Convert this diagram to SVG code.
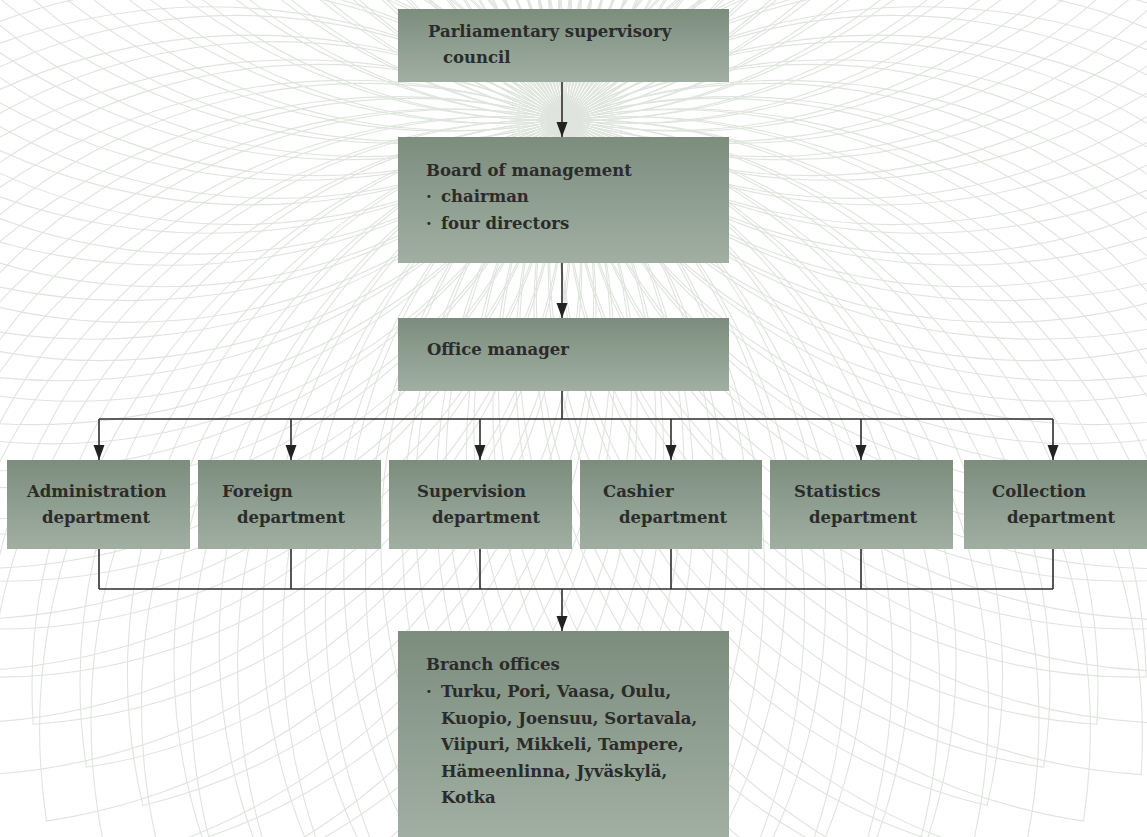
<svg xmlns="http://www.w3.org/2000/svg" xmlns:xlink="http://www.w3.org/1999/xlink" width="1147" height="837" viewBox="0 0 1147 837">
<style>
.bg{fill:none;stroke:#dfe4de;stroke-width:1.1}
.box{fill:url(#grad)}
.t{font-family:"DejaVu Serif","Liberation Serif",serif;font-weight:bold;font-size:16.5px;fill:#2b2b2b}
.c{fill:none;stroke:#2e2e2e;stroke-width:1.6}
</style>
<defs>
<linearGradient id="grad" x1="0" y1="0" x2="0" y2="1">
<stop offset="0" stop-color="#7c8d7e"/>
<stop offset="1" stop-color="#a0afa1"/>
</linearGradient>
<marker id="ah" viewBox="0 -6 15 12" refX="15" refY="0" markerWidth="15" markerHeight="12" markerUnits="userSpaceOnUse" orient="auto">
<path d="M0,-5.5 L15,0 L0,5.5 z" fill="#222"/>
</marker>
<g id="p">
<path d="M0,0 A569.2,569.2 0 0 1 805,0 A569.2,569.2 0 0 1 0,0 Z"/>
<path d="M0,0 A616.6,616.6 0 0 1 872,0 A616.6,616.6 0 0 1 0,0 Z"/>
</g>
</defs>
<rect width="1147" height="837" fill="#ffffff"/>
<g id="background" class="bg" transform="translate(565,120)">
<use xlink:href="#p" transform="rotate(0)"/>
<use xlink:href="#p" transform="rotate(4.865)"/>
<use xlink:href="#p" transform="rotate(9.730)"/>
<use xlink:href="#p" transform="rotate(14.595)"/>
<use xlink:href="#p" transform="rotate(19.459)"/>
<use xlink:href="#p" transform="rotate(24.324)"/>
<use xlink:href="#p" transform="rotate(29.189)"/>
<use xlink:href="#p" transform="rotate(34.054)"/>
<use xlink:href="#p" transform="rotate(38.919)"/>
<use xlink:href="#p" transform="rotate(43.784)"/>
<use xlink:href="#p" transform="rotate(48.649)"/>
<use xlink:href="#p" transform="rotate(53.514)"/>
<use xlink:href="#p" transform="rotate(58.378)"/>
<use xlink:href="#p" transform="rotate(63.243)"/>
<use xlink:href="#p" transform="rotate(68.108)"/>
<use xlink:href="#p" transform="rotate(72.973)"/>
<use xlink:href="#p" transform="rotate(77.838)"/>
<use xlink:href="#p" transform="rotate(82.703)"/>
<use xlink:href="#p" transform="rotate(87.568)"/>
<use xlink:href="#p" transform="rotate(92.432)"/>
<use xlink:href="#p" transform="rotate(97.297)"/>
<use xlink:href="#p" transform="rotate(102.162)"/>
<use xlink:href="#p" transform="rotate(107.027)"/>
<use xlink:href="#p" transform="rotate(111.892)"/>
<use xlink:href="#p" transform="rotate(116.757)"/>
<use xlink:href="#p" transform="rotate(121.622)"/>
<use xlink:href="#p" transform="rotate(126.486)"/>
<use xlink:href="#p" transform="rotate(131.351)"/>
<use xlink:href="#p" transform="rotate(136.216)"/>
<use xlink:href="#p" transform="rotate(141.081)"/>
<use xlink:href="#p" transform="rotate(145.946)"/>
<use xlink:href="#p" transform="rotate(150.811)"/>
<use xlink:href="#p" transform="rotate(155.676)"/>
<use xlink:href="#p" transform="rotate(160.541)"/>
<use xlink:href="#p" transform="rotate(165.405)"/>
<use xlink:href="#p" transform="rotate(170.270)"/>
<use xlink:href="#p" transform="rotate(175.135)"/>
<use xlink:href="#p" transform="rotate(180)"/>
<use xlink:href="#p" transform="rotate(184.865)"/>
<use xlink:href="#p" transform="rotate(189.730)"/>
<use xlink:href="#p" transform="rotate(194.595)"/>
<use xlink:href="#p" transform="rotate(199.459)"/>
<use xlink:href="#p" transform="rotate(204.324)"/>
<use xlink:href="#p" transform="rotate(209.189)"/>
<use xlink:href="#p" transform="rotate(214.054)"/>
<use xlink:href="#p" transform="rotate(218.919)"/>
<use xlink:href="#p" transform="rotate(223.784)"/>
<use xlink:href="#p" transform="rotate(228.649)"/>
<use xlink:href="#p" transform="rotate(233.514)"/>
<use xlink:href="#p" transform="rotate(238.378)"/>
<use xlink:href="#p" transform="rotate(243.243)"/>
<use xlink:href="#p" transform="rotate(248.108)"/>
<use xlink:href="#p" transform="rotate(252.973)"/>
<use xlink:href="#p" transform="rotate(257.838)"/>
<use xlink:href="#p" transform="rotate(262.703)"/>
<use xlink:href="#p" transform="rotate(267.568)"/>
<use xlink:href="#p" transform="rotate(272.432)"/>
<use xlink:href="#p" transform="rotate(277.297)"/>
<use xlink:href="#p" transform="rotate(282.162)"/>
<use xlink:href="#p" transform="rotate(287.027)"/>
<use xlink:href="#p" transform="rotate(291.892)"/>
<use xlink:href="#p" transform="rotate(296.757)"/>
<use xlink:href="#p" transform="rotate(301.622)"/>
<use xlink:href="#p" transform="rotate(306.486)"/>
<use xlink:href="#p" transform="rotate(311.351)"/>
<use xlink:href="#p" transform="rotate(316.216)"/>
<use xlink:href="#p" transform="rotate(321.081)"/>
<use xlink:href="#p" transform="rotate(325.946)"/>
<use xlink:href="#p" transform="rotate(330.811)"/>
<use xlink:href="#p" transform="rotate(335.676)"/>
<use xlink:href="#p" transform="rotate(340.541)"/>
<use xlink:href="#p" transform="rotate(345.405)"/>
<use xlink:href="#p" transform="rotate(350.270)"/>
<use xlink:href="#p" transform="rotate(355.135)"/>
</g>
<g id="connectors" class="c">
<path d="M562,82 V137" marker-end="url(#ah)"/>
<path d="M562,263 V318" marker-end="url(#ah)"/>
<path d="M562,391 V419 M99,419 H1053"/>
<path d="M99,419 V460" marker-end="url(#ah)"/>
<path d="M291,419 V460" marker-end="url(#ah)"/>
<path d="M480,419 V460" marker-end="url(#ah)"/>
<path d="M671,419 V460" marker-end="url(#ah)"/>
<path d="M861,419 V460" marker-end="url(#ah)"/>
<path d="M1053,419 V460" marker-end="url(#ah)"/>
<path d="M99,549 V589 M291,549 V589 M480,549 V589 M671,549 V589 M861,549 V589 M1053,549 V589 M99,589 H1053"/>
<path d="M562,589 V631" marker-end="url(#ah)"/>
</g>
<g id="parliament">
<rect class="box" x="398" y="9" width="331" height="73"/>
<text class="t" x="428" y="37">Parliamentary supervisory</text>
<text class="t" x="443" y="63">council</text>
</g>
<g id="board">
<rect class="box" x="398" y="137" width="331" height="126"/>
<text class="t" x="426" y="176">Board of management</text>
<text class="t" x="426" y="202">·</text>
<text class="t" x="441" y="202">chairman</text>
<text class="t" x="426" y="229">·</text>
<text class="t" x="441" y="229">four directors</text>
</g>
<g id="office">
<rect class="box" x="398" y="318" width="331" height="73"/>
<text class="t" x="427" y="355">Office manager</text>
</g>
<g id="administration">
<rect class="box" x="7" y="460" width="183" height="89"/>
<text class="t" x="27" y="497">Administration</text>
<text class="t" x="42" y="523">department</text>
</g>
<g id="foreign">
<rect class="box" x="198" y="460" width="183" height="89"/>
<text class="t" x="222" y="497">Foreign</text>
<text class="t" x="237" y="523">department</text>
</g>
<g id="supervision">
<rect class="box" x="389" y="460" width="183" height="89"/>
<text class="t" x="417" y="497">Supervision</text>
<text class="t" x="432" y="523">department</text>
</g>
<g id="cashier">
<rect class="box" x="580" y="460" width="182" height="89"/>
<text class="t" x="603" y="497">Cashier</text>
<text class="t" x="619" y="523">department</text>
</g>
<g id="statistics">
<rect class="box" x="770" y="460" width="183" height="89"/>
<text class="t" x="794" y="497">Statistics</text>
<text class="t" x="809" y="523">department</text>
</g>
<g id="collection">
<rect class="box" x="964" y="460" width="183" height="89"/>
<text class="t" x="992" y="497">Collection</text>
<text class="t" x="1007" y="523">department</text>
</g>
<g id="branch">
<rect class="box" x="398" y="631" width="331" height="206"/>
<text class="t" x="426" y="670">Branch offices</text>
<text class="t" x="426" y="697">·</text>
<text class="t" x="441" y="697">Turku, Pori, Vaasa, Oulu,</text>
<text class="t" x="441" y="724">Kuopio, Joensuu, Sortavala,</text>
<text class="t" x="441" y="750">Viipuri, Mikkeli, Tampere,</text>
<text class="t" x="441" y="777">Hämeenlinna, Jyväskylä,</text>
<text class="t" x="441" y="803">Kotka</text>
</g>
</svg>
